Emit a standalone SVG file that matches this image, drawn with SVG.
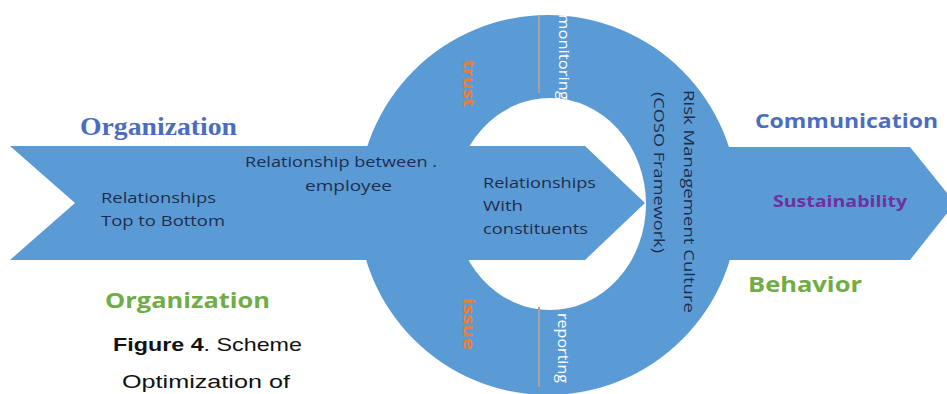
<svg xmlns="http://www.w3.org/2000/svg" width="947" height="394" viewBox="0 0 947 394">
<style>
.shape{fill:#5b9bd5}
.sep{stroke:#a3a3a3;stroke-width:2;fill:none}
.dk{font-family:"Open Sans","Liberation Sans",sans-serif;fill:#1f2d4d;font-size:15px}
.wt{font-family:"Open Sans","Liberation Sans",sans-serif;fill:#ffffff;font-size:15px}
.or{font-family:"Open Sans","Liberation Sans",sans-serif;fill:#ed7d31;font-size:16px;font-weight:bold}
.hd{font-family:"Open Sans","Liberation Sans",sans-serif;font-weight:bold}
.cap{font-family:"Liberation Sans",Arial,sans-serif;fill:#111111;font-size:19px}
</style>
<rect width="947" height="394" fill="#ffffff"/>
<g id="ring">
<path class="shape" fill-rule="evenodd" d="M358,205 A190,190 0 1,0 738,205 A190,190 0 1,0 358,205 Z M454,204 A96,106 0 1,0 646,204 A96,106 0 1,0 454,204 Z"/>
</g>
<g id="left-arrow">
<polygon class="shape" points="10,146 585,146 645,203 585,260 10,260 75,203"/>
<text class="dk" x="101" y="203" textLength="115" lengthAdjust="spacingAndGlyphs">Relationships</text>
<text class="dk" x="101" y="226" textLength="124" lengthAdjust="spacingAndGlyphs">Top to Bottom</text>
<text class="dk" x="245" y="167" textLength="192" lengthAdjust="spacingAndGlyphs">Relationship between .</text>
<text class="dk" x="305" y="191" textLength="87" lengthAdjust="spacingAndGlyphs">employee</text>
<text class="dk" x="483" y="188" textLength="113" lengthAdjust="spacingAndGlyphs">Relationships</text>
<text class="dk" x="483" y="211" textLength="40" lengthAdjust="spacingAndGlyphs">With</text>
<text class="dk" x="483" y="234" textLength="105" lengthAdjust="spacingAndGlyphs">constituents</text>
</g>
<g id="right-arrow">
<polygon class="shape" points="700,147 910,147 955,203 910,260 700,260"/>
</g>
<g id="connectors">
<line class="sep" x1="539" y1="15" x2="539" y2="93"/>
<line class="sep" x1="539" y1="307" x2="539" y2="387"/>
</g>
<g id="ring-labels">
<text class="wt" font-size="17" transform="translate(559,14) rotate(90)" textLength="86" lengthAdjust="spacingAndGlyphs">monitoring</text>
<text class="wt" transform="translate(558,313) rotate(90)" textLength="70" lengthAdjust="spacingAndGlyphs">reporting</text>
<text class="or" transform="translate(463,60) rotate(90)" textLength="47" lengthAdjust="spacingAndGlyphs">trust</text>
<text class="or" transform="translate(463,298) rotate(90)" textLength="52" lengthAdjust="spacingAndGlyphs">issue</text>
</g>
<g id="risk-culture">
<text class="dk" font-size="20" transform="translate(684,90) rotate(90)" textLength="223" lengthAdjust="spacingAndGlyphs">Risk Management Culture</text>
<text class="dk" font-size="20" transform="translate(654,92) rotate(90)" textLength="161" lengthAdjust="spacingAndGlyphs">(COSO Framework)</text>
</g>
<g id="labels">
<text font-family="'Liberation Serif','Times New Roman',serif" font-weight="bold" font-size="25" fill="#4a6dbf" x="80" y="135" textLength="157" lengthAdjust="spacingAndGlyphs">Organization</text>
<text class="hd" font-size="20" fill="#4a6dbf" x="755" y="128" textLength="183" lengthAdjust="spacingAndGlyphs">Communication</text>
<text class="hd" font-size="16" fill="#7030a0" x="773" y="207" textLength="134" lengthAdjust="spacingAndGlyphs">Sustainability</text>
<text class="hd" font-size="21" fill="#70ad47" x="748" y="292" textLength="114" lengthAdjust="spacingAndGlyphs">Behavior</text>
<text class="hd" font-size="21" fill="#70ad47" x="105" y="308" textLength="165" lengthAdjust="spacingAndGlyphs">Organization</text>
</g>
<g id="caption">
<text class="cap" x="113" y="351" textLength="189" lengthAdjust="spacingAndGlyphs"><tspan font-weight="bold">Figure 4</tspan>. Scheme</text>
<text class="cap" x="122" y="388" textLength="168" lengthAdjust="spacingAndGlyphs">Optimization of</text>
</g>
</svg>
